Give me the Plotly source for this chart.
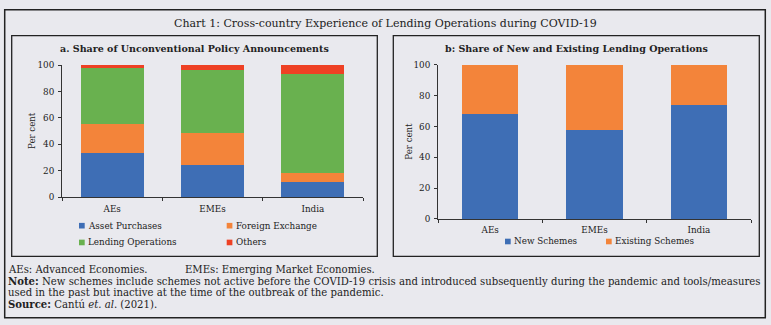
import plotly.graph_objects as go

# ---- data ----
categories = ["AEs", "EMEs", "India"]

# Panel a: share of unconventional policy announcements (per cent)
asset_purchases = [33.2, 24.6, 11.5]
foreign_exchange = [22.2, 23.7, 7.0]
lending_operations = [42.6, 48.3, 74.4]
others = [2.0, 3.4, 7.1]

# Panel b: share of new and existing lending operations (per cent)
new_schemes = [67.9, 57.7, 74.0]
existing_schemes = [32.1, 42.3, 26.0]

y_ticks = [0, 20, 40, 60, 80, 100]

series_a = [
    ("Asset Purchases", asset_purchases, "#3e6eb5"),
    ("Foreign Exchange", foreign_exchange, "#f3843a"),
    ("Lending Operations", lending_operations, "#69b14f"),
    ("Others", others, "#ee4124"),
]
series_b = [
    ("New Schemes", new_schemes, "#3e6eb5"),
    ("Existing Schemes", existing_schemes, "#f3843a"),
]

# ---- page geometry (pixels -> paper fractions) ----
W, H = 771, 325
BG = "#e9e9ee"
INK = "#222222"
SERIF = "DejaVu Serif"


def px(x):
    return x / W


def py(y):
    return 1 - y / H


fig = go.Figure()

for name, vals, col in series_a:
    fig.add_trace(go.Bar(x=categories, y=vals, name=name, marker=dict(color=col, line=dict(width=0)),
                         width=0.63, xaxis="x", yaxis="y", showlegend=False))
for name, vals, col in series_b:
    fig.add_trace(go.Bar(x=categories, y=vals, name=name, marker=dict(color=col, line=dict(width=0)),
                         width=0.54, xaxis="x2", yaxis="y2", showlegend=False))

axis_font = dict(family=SERIF, size=8.8, color=INK)
common_x = dict(showgrid=False, zeroline=False, showline=True, linecolor="#333333", linewidth=1,
                ticks="outside", ticklen=3, tickcolor="#333333", tickson="boundaries",
                tickfont=axis_font, range=[-0.5, 2.5], fixedrange=True, ticklabelstandoff=3)
common_y = dict(showgrid=False, zeroline=False, showline=True, linecolor="#333333", linewidth=1,
                ticks="outside", ticklen=3, tickcolor="#333333", tickvals=y_ticks,
                tickfont=dict(family=SERIF, size=8.8, color=INK), range=[0, 100], fixedrange=True,
                ticklabelstandoff=2)

fig.update_layout(
    width=W, height=H,
    margin=dict(l=0, r=0, t=0, b=0),
    paper_bgcolor=BG, plot_bgcolor=BG,
    barmode="stack",
    xaxis=dict(domain=[px(62), px(363)], anchor="y", **common_x),
    yaxis=dict(domain=[py(198.3), py(62)], anchor="x", **common_y),
    xaxis2=dict(domain=[px(438), px(751)], anchor="y2", **common_x),
    yaxis2=dict(domain=[py(220.7), py(61.7)], anchor="x2", **common_y),
)

shapes = []
annotations = []


def rect(x0, y0, x1, y1, width=1.3):
    shapes.append(dict(type="rect", xref="paper", yref="paper",
                       x0=px(x0), x1=px(x1), y0=py(y1), y1=py(y0),
                       line=dict(color=INK, width=width), fillcolor="rgba(0,0,0,0)", layer="below"))


def text(x, y, s, size, anchor="center", angle=0, family=SERIF):
    annotations.append(dict(xref="paper", yref="paper", x=px(x), y=py(y), text=s, showarrow=False,
                            xanchor=anchor, yanchor="middle", textangle=angle,
                            font=dict(family=family, size=size, color=INK)))


# frames
rect(4.7, 5, 765.3, 322.7, width=1.5)
rect(11.7, 31.7, 377.3, 259.3)
rect(393.3, 31.7, 759.3, 259.3)

# titles
text(385, 19, "Chart 1: Cross-country Experience of Lending Operations during COVID-19", 11)
text(194.5, 44.5, "<b>a. Share of Unconventional Policy Announcements</b>", 9.5)
text(576, 44.5, "<b>b: Share of New and Existing Lending Operations</b>", 9.5)

# axis titles
text(32, 130, "Per cent", 8.6, angle=-90)
text(409, 141, "Per cent", 8.6, angle=-90)


# legends
def legend_item(x, y, name, color):
    shapes.append(dict(type="rect", xref="paper", yref="paper",
                       x0=px(x), x1=px(x + 5.7), y0=py(y + 2.9), y1=py(y - 2.9),
                       line=dict(width=0), fillcolor=color))
    text(x + 7, y, name, 8.8, anchor="left")


legend_a_pos = [(79, 227.7), (226.7, 227.7), (79, 245), (226.7, 245)]
for (name, _, col), (lx, ly) in zip(series_a, legend_a_pos):
    legend_item(lx, ly, name, col)
legend_b_pos = [(505, 244), (606, 244)]
for (name, _, col), (lx, ly) in zip(series_b, legend_b_pos):
    legend_item(lx, ly, name, col)

# footnotes
fn = 10.1
text(6, 273.3, "AEs: Advanced Economies.", fn, anchor="left")
text(183, 273.3, "EMEs: Emerging Market Economies.", fn, anchor="left")
text(6, 284.8, "<b>Note:</b> New schemes include schemes not active before the COVID-19 crisis and introduced "
               "subsequently during the pandemic and tools/measures", fn, anchor="left")
text(6, 296.3, "used in the past but inactive at the time of the outbreak of the pandemic.", fn, anchor="left")
text(6, 308.7, "<b>Source:</b> Cantú <i>et. al</i>. (2021).", fn, anchor="left")

fig.update_layout(shapes=shapes, annotations=annotations)

fig.write_html("out.html")
